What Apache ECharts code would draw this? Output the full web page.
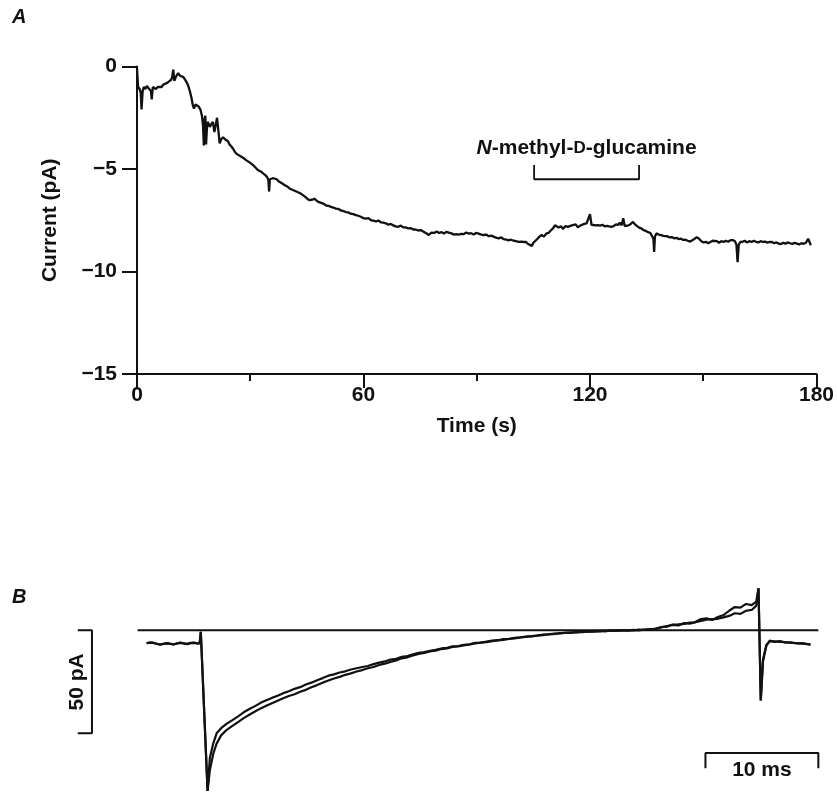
<!DOCTYPE html>
<html>
<head>
<meta charset="utf-8">
<script src="https://cdn.jsdelivr.net/npm/echarts@6/dist/echarts.min.js"></script>
<style>html,body{margin:0;padding:0;background:#fff;}#c{width:837px;height:792px;}</style>
</head>
<body>
<div id="c"></div>
<script>
// ---------- Panel A data ----------
const xTicksA = [0, 60, 120, 180];
const yTicksA = [0, -5, -10, -15];
const timeA = [0,0.3,0.7,1.0,1.2,1.5,1.8,2.2,2.6,3.0,3.4,3.7,3.9,4.2,4.6,5.0,5.5,6.0,6.5,7.0,7.5,8.0,8.5,9.0,9.3,9.6,9.9,10.3,10.9,11.4,11.8,12.3,12.7,13.1,13.5,14.0,14.4,14.8,15.1,15.5,15.9,16.3,16.8,17.2,17.5,17.7,17.9,18.1,18.3,18.5,18.7,19.0,19.3,19.7,20.1,20.5,20.8,21.2,21.6,21.9,22.3,22.8,23.3,23.7,24.1,24.5,25.0,25.4,25.9,26.3,26.8,27.2,27.6,28.1,28.6,29.0,29.5,30.0,30.5,31.0,31.5,32.0,32.5,33.0,33.5,34.0,34.5,34.8,35.0,35.2,35.6,36.0,36.5,37.0,37.5,38.0,38.6,39.2,39.8,40.4,41.0,41.6,42.1,42.8,43.4,43.9,44.5,45.1,45.7,46.4,47.0,47.6,48.2,48.8,49.5,50.1,50.8,51.4,52.0,52.7,53.4,54.0,54.7,55.3,56.0,56.6,57.3,58.0,58.6,59.3,60.0,60.6,61.3,62.0,62.6,63.3,64.0,64.6,65.3,65.9,66.6,67.2,67.9,68.5,69.2,69.9,70.5,71.2,71.9,72.5,73.2,73.8,74.5,75.2,75.8,76.5,77.3,78.0,78.7,79.4,80.0,80.7,81.3,82.0,82.6,83.3,84.0,84.6,85.2,85.9,86.5,87.2,87.9,88.5,89.2,89.8,90.5,91.2,91.8,92.5,93.2,93.8,94.5,95.1,95.8,96.5,97.1,97.8,98.4,99.1,99.8,100.4,101.1,101.8,102.4,103.0,103.5,104.0,104.6,105.0,105.5,106.1,106.6,107.2,107.8,108.4,109.0,109.6,110.2,110.7,111.2,111.7,112.3,112.9,113.5,114.1,114.6,115.2,115.7,116.2,116.8,117.4,117.9,118.5,119.1,119.6,120.0,120.4,120.9,121.5,122.1,122.7,123.3,123.9,124.5,125.1,125.7,126.3,126.9,127.5,127.9,128.4,128.8,129.2,129.7,130.2,130.8,131.4,131.9,132.4,133.0,133.6,134.2,134.8,135.4,136.0,136.5,136.8,137.0,137.2,137.6,138.2,138.8,139.4,139.9,140.5,141.1,141.7,142.3,142.9,143.5,144.1,144.7,145.3,145.9,146.5,147.1,147.7,148.3,148.9,149.5,150.1,150.7,151.3,151.9,152.5,153.0,153.6,154.2,154.8,155.4,156.0,156.6,157.2,157.8,158.4,158.8,159.1,159.4,159.8,160.4,161.0,161.6,162.2,162.8,163.4,164.0,164.6,165.2,165.8,166.4,167.0,167.6,168.2,168.8,169.4,170.0,170.6,171.2,171.8,172.4,173.0,173.6,174.2,174.8,175.4,176.0,176.6,177.2,177.8,178.1,178.5];
const currentA = [-0.1,-1.0,-1.1,-1.3,-2.1,-1.2,-1.0,-1.1,-0.95,-1.05,-1.0,-1.2,-1.6,-1.0,-0.95,-1.1,-1.0,-0.95,-1.0,-0.88,-0.9,-0.8,-0.78,-0.65,-0.55,-0.15,-0.7,-0.5,-0.32,-0.45,-0.5,-0.52,-0.6,-0.75,-0.9,-1.2,-1.5,-1.9,-2.05,-1.85,-1.8,-1.95,-2.1,-2.4,-2.9,-3.85,-2.6,-2.4,-3.8,-3.1,-2.7,-2.8,-2.95,-2.8,-2.7,-3.2,-2.9,-2.5,-3.2,-3.75,-3.55,-3.45,-3.55,-3.5,-3.65,-3.8,-3.9,-4.0,-4.15,-4.25,-4.25,-4.35,-4.35,-4.45,-4.5,-4.58,-4.62,-4.7,-4.78,-4.85,-4.95,-5.05,-5.1,-5.15,-5.2,-5.3,-5.4,-5.55,-6.1,-5.5,-5.42,-5.45,-5.5,-5.5,-5.6,-5.62,-5.72,-5.8,-5.85,-5.95,-6.0,-6.05,-6.1,-6.15,-6.2,-6.28,-6.35,-6.45,-6.52,-6.5,-6.45,-6.55,-6.62,-6.65,-6.7,-6.78,-6.8,-6.85,-6.88,-6.93,-6.95,-7.02,-7.05,-7.1,-7.12,-7.18,-7.2,-7.25,-7.28,-7.33,-7.4,-7.42,-7.4,-7.5,-7.52,-7.55,-7.52,-7.6,-7.62,-7.65,-7.72,-7.68,-7.75,-7.8,-7.82,-7.76,-7.85,-7.85,-7.9,-7.88,-7.95,-7.95,-8.0,-7.98,-8.05,-8.12,-8.22,-8.1,-8.12,-8.05,-8.12,-8.08,-8.15,-8.06,-8.1,-8.14,-8.2,-8.18,-8.2,-8.16,-8.18,-8.1,-8.15,-8.13,-8.2,-8.12,-8.15,-8.2,-8.22,-8.2,-8.28,-8.25,-8.3,-8.35,-8.38,-8.34,-8.42,-8.44,-8.48,-8.45,-8.5,-8.52,-8.55,-8.54,-8.56,-8.55,-8.65,-8.58,-8.75,-8.6,-8.55,-8.4,-8.3,-8.22,-8.3,-8.15,-8.12,-8.0,-7.9,-7.75,-7.72,-7.85,-7.8,-7.92,-7.78,-7.82,-7.9,-7.75,-7.82,-7.7,-7.85,-7.76,-7.8,-7.68,-7.65,-7.7,-7.2,-7.72,-7.72,-7.75,-7.74,-7.76,-7.72,-7.8,-7.77,-7.8,-7.82,-7.78,-7.7,-7.72,-7.62,-7.75,-7.4,-7.78,-7.82,-7.75,-7.68,-7.58,-7.7,-7.78,-7.86,-7.9,-7.98,-8.02,-8.08,-8.12,-8.18,-8.4,-9.05,-8.3,-8.14,-8.2,-8.22,-8.26,-8.3,-8.28,-8.34,-8.32,-8.38,-8.36,-8.42,-8.4,-8.46,-8.45,-8.5,-8.54,-8.48,-8.4,-8.33,-8.4,-8.52,-8.58,-8.55,-8.62,-8.56,-8.5,-8.46,-8.52,-8.6,-8.52,-8.56,-8.5,-8.55,-8.48,-8.46,-8.52,-8.7,-9.55,-8.7,-8.56,-8.55,-8.5,-8.58,-8.52,-8.56,-8.5,-8.55,-8.58,-8.52,-8.56,-8.54,-8.6,-8.55,-8.56,-8.62,-8.58,-8.64,-8.66,-8.6,-8.64,-8.58,-8.62,-8.66,-8.6,-8.64,-8.68,-8.62,-8.65,-8.6,-8.4,-8.35,-8.72];
// N-methyl-D-glucamine application (s) and bracket levels (pA)
const nmgStart = 105.2, nmgEnd = 133.0;
const nmgBracketTop = -4.8, nmgBracketBottom = -5.5, nmgLabelY = -3.98;

// ---------- Panel B data ----------
const timeB = [5.9,6.2,6.5,6.8,7.1,7.4,7.7,8.0,8.3,8.6,8.9,9.2,9.5,9.8,10.1,10.4,10.6,10.7,11.3,11.5,11.8,12.1,
12.5,13.0,13.5,14.0,14.5,15.0,15.5,16.0,16.5,17.0,17.5,18.0,18.5,19.0,19.5,20.0,20.5,21.0,21.5,22.0,22.5,23.0,23.5,24.0,24.5,25.0,25.5,26.0,26.5,27.0,27.5,28.0,28.5,29.0,29.5,30.0,30.5,31.0,31.5,32.0,32.5,33.0,33.5,34.0,34.5,35.0,35.5,36.0,36.5,37.0,37.5,38.0,38.5,39.0,39.5,40.0,40.5,41.0,41.5,42.0,42.5,43.0,43.5,44.0,44.5,45.0,45.5,46.0,46.5,47.0,47.5,48.0,48.5,49.0,49.5,50.0,50.5,51.0,51.5,52.0,52.5,53.0,53.5,54.0,54.5,55.0,55.5,56.0,56.5,57.0,57.5,58.0,58.5,59.0,59.5,
59.9,60.1,60.3,60.5,60.8,61.1,61.5,62.0,62.5,63.0,63.5,64.0,64.7];
const traceB1 = [-6.3,-5.9,-6.0,-6.6,-7.0,-6.5,-6.2,-6.6,-6.9,-6.3,-6.0,-6.4,-6.7,-6.1,-6.0,-6.4,-6.3,-0.7,-78,-62,-55,-50,
-47.5,-45.3,-43.6,-41.8,-39.8,-38.2,-36.8,-35.2,-34.0,-32.8,-31.8,-30.5,-29.6,-28.4,-27.6,-26.3,-25.4,-24.2,-23.2,-22.0,-21.4,-20.5,-19.9,-19.0,-18.4,-17.8,-17.3,-16.4,-15.7,-15.1,-14.2,-13.8,-12.9,-12.5,-11.6,-10.9,-10.6,-9.9,-9.5,-8.8,-8.5,-7.8,-7.6,-7.0,-6.8,-6.1,-5.9,-5.5,-5.0,-4.8,-4.3,-4.1,-3.6,-3.4,-3.0,-2.8,-2.5,-2.1,-2.0,-1.6,-1.5,-1.1,-1.2,-0.8,-0.9,-0.5,-0.7,-0.3,-0.5,0.0,-0.3,0.1,-0.2,0.2,0.0,0.4,0.3,0.9,1.4,2.1,2.6,2.4,3.5,3.2,4.0,5.5,5.8,5.0,6.5,7.4,9.5,11.3,11.0,12.8,12.2,
14.0,20.4,-34,-15,-7.4,-5.0,-5.6,-5.2,-6.0,-5.8,-6.4,-6.2,-7.0];
const traceB2 = [-6.2,-6.0,-6.1,-6.5,-6.9,-6.6,-6.3,-6.5,-6.8,-6.4,-6.1,-6.3,-6.6,-6.2,-6.1,-6.3,-6.2,-0.7,-78,-68,-60,-55,
-51,-48.3,-46.4,-44.6,-42.6,-41.0,-39.4,-37.9,-36.6,-35.4,-34.2,-33.0,-31.9,-31.0,-29.8,-28.9,-27.6,-26.6,-25.4,-24.4,-23.4,-22.6,-21.6,-20.9,-20.0,-19.3,-18.4,-17.8,-16.8,-16.2,-15.3,-14.6,-13.6,-13.1,-12.2,-11.5,-11.0,-10.2,-9.9,-9.1,-8.8,-8.1,-7.8,-7.3,-6.9,-6.4,-6.0,-5.7,-5.3,-4.9,-4.6,-4.2,-3.9,-3.5,-3.2,-2.9,-2.6,-2.3,-1.9,-1.8,-1.4,-1.3,-1.0,-1.0,-0.7,-0.7,-0.4,-0.5,-0.2,-0.3,0.0,-0.2,0.1,0.0,0.3,0.2,0.6,0.7,1.6,1.8,2.8,2.9,3.1,3.7,3.9,4.6,5.2,5.4,5.6,6.3,7.0,8.3,8.0,9.5,9.9,
12.0,20.4,-34,-14,-7.0,-5.3,-5.4,-5.6,-5.8,-6.1,-6.2,-6.5,-6.8];
const baselineB = [5.1, 65.4];          // zero-current reference line span (ms)
const scaleCurrent = 50, scaleTime = 10; // scale bars: pA, ms

// ---------- layout ----------
const FONT = 'Liberation Sans, Arial, Helvetica, sans-serif';
const FS = 21;
const zip = (xs, ys) => xs.map((x, i) => [x, ys[i]]);
const fmtMinus = v => (v < 0 ? '\u2212' + Math.abs(v) : String(v));
const black = '#111';

const vBarX = 1.06, vBarTickX = -0.2;
const hBarX0 = 55.4, hBarY = -59.6, hBarTickY = -66.9;

const textLabel = {fontSize: FS, fontWeight: 'bold', color: black, fontFamily: FONT};

const chart = echarts.init(document.getElementById('c'), null, {renderer: 'canvas', width: 837, height: 792});
chart.setOption({
  animation: false,
  backgroundColor: '#fff',
  textStyle: {fontFamily: FONT},
  title: [
    {text: 'A', left: 7, top: 2, textStyle: {fontSize: 20, fontStyle: 'italic', fontWeight: 'bold', color: black, fontFamily: FONT}},
    {text: 'B', left: 7, top: 582, textStyle: {fontSize: 20, fontStyle: 'italic', fontWeight: 'bold', color: black, fontFamily: FONT}}
  ],
  grid: [
    {left: 137, top: 66.5, width: 682, height: 307.5},
    {left: 57.42, top: 585, width: 767.7, height: 206}
  ],
  xAxis: [
    {
      gridIndex: 0, type: 'value', min: xTicksA[0], max: xTicksA[xTicksA.length - 1],
      interval: xTicksA[1] - xTicksA[0],
      name: 'Time (s)', nameLocation: 'middle', nameGap: 42,
      nameTextStyle: textLabel,
      axisLine: {onZero: false, lineStyle: {color: black, width: 2}},
      axisTick: {show: true, inside: false, length: 14, lineStyle: {color: black, width: 2}},
      minorTick: {show: true, splitNumber: 2, length: 7, lineStyle: {color: black, width: 2}},
      splitLine: {show: false}, minorSplitLine: {show: false},
      axisLabel: Object.assign({margin: 11}, textLabel)
    },
    {gridIndex: 1, type: 'value', min: -2, max: 66, show: false}
  ],
  yAxis: [
    {
      gridIndex: 0, type: 'value', min: yTicksA[yTicksA.length - 1], max: yTicksA[0],
      interval: yTicksA[0] - yTicksA[1],
      name: 'Current (pA)', nameLocation: 'middle', nameGap: 76, nameRotate: 90,
      nameTextStyle: textLabel,
      axisLine: {show: true, onZero: false, lineStyle: {color: black, width: 2}},
      axisTick: {show: true, inside: false, length: 15, lineStyle: {color: black, width: 2}},
      splitLine: {show: false},
      axisLabel: Object.assign({margin: 20, formatter: fmtMinus}, textLabel)
    },
    {gridIndex: 1, type: 'value', min: -78, max: 22, show: false}
  ],
  series: [
    {
      type: 'line', xAxisIndex: 0, yAxisIndex: 0, data: zip(timeA, currentA),
      showSymbol: false, lineStyle: {color: black, width: 2.3}, clip: false, z: 3
    },
    {
      type: 'line', xAxisIndex: 0, yAxisIndex: 0, showSymbol: false, clip: false,
      data: [[nmgStart, nmgBracketTop], [nmgStart, nmgBracketBottom], [nmgEnd, nmgBracketBottom], [nmgEnd, nmgBracketTop]],
      lineStyle: {color: black, width: 1.8}
    },
    {
      type: 'scatter', xAxisIndex: 0, yAxisIndex: 0, symbolSize: 0, itemStyle: {opacity: 1},
      data: [[(nmgStart + nmgEnd) / 2, nmgLabelY]],
      label: {
        show: true, position: 'inside',
        formatter: '{i|N}{t|-methyl-}{s|D}{t|-glucamine}',
        rich: {
          i: {fontSize: FS, fontStyle: 'italic', fontWeight: 'bold', color: black, fontFamily: FONT},
          t: {fontSize: FS, fontWeight: 'bold', color: black, fontFamily: FONT},
          s: {fontSize: 17, fontWeight: 'bold', color: black, fontFamily: FONT}
        }
      }
    },
    // Panel B
    {
      type: 'line', xAxisIndex: 1, yAxisIndex: 1, showSymbol: false,
      data: [[baselineB[0], 0], [baselineB[1], 0]], lineStyle: {color: black, width: 2}
    },
    {
      type: 'line', xAxisIndex: 1, yAxisIndex: 1, showSymbol: false, clip: false,
      data: zip(timeB, traceB1), lineStyle: {color: black, width: 2.2}
    },
    {
      type: 'line', xAxisIndex: 1, yAxisIndex: 1, showSymbol: false, clip: false,
      data: zip(timeB, traceB2), lineStyle: {color: black, width: 2.2}
    },
    {
      type: 'line', xAxisIndex: 1, yAxisIndex: 1, showSymbol: false, clip: false,
      data: [[vBarTickX, 0], [vBarX, 0], [vBarX, -scaleCurrent], [vBarTickX, -scaleCurrent]],
      lineStyle: {color: black, width: 2}
    },
    {
      type: 'line', xAxisIndex: 1, yAxisIndex: 1, showSymbol: false, clip: false,
      data: [[hBarX0, hBarTickY], [hBarX0, hBarY], [hBarX0 + scaleTime, hBarY], [hBarX0 + scaleTime, hBarTickY]],
      lineStyle: {color: black, width: 2}
    },
    {
      type: 'scatter', xAxisIndex: 1, yAxisIndex: 1, symbolSize: 0, itemStyle: {opacity: 1},
      data: [[-0.27, -scaleCurrent / 2]],
      label: Object.assign({show: true, position: 'inside', rotate: 90, formatter: scaleCurrent + ' pA'}, textLabel)
    },
    {
      type: 'scatter', xAxisIndex: 1, yAxisIndex: 1, symbolSize: 0, itemStyle: {opacity: 1},
      data: [[hBarX0 + scaleTime / 2, -67.8]],
      label: Object.assign({show: true, position: 'inside', formatter: scaleTime + ' ms'}, textLabel)
    }
  ]
});
</script>
</body>
</html>
